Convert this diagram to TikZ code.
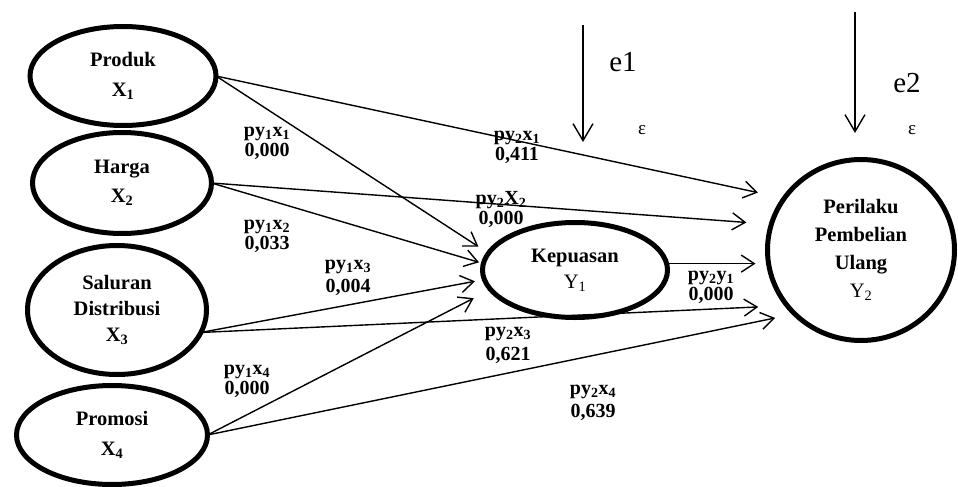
\documentclass[tikz,border=0pt]{standalone}
\usepackage{fontspec}
\setmainfont{Liberation Serif}
\usetikzlibrary{shapes.geometric,arrows.meta}
\begin{document}
\begin{tikzpicture}[x=1pt,y=-1pt,
  var/.style={draw,ellipse,line width=5pt,inner sep=0pt,outer sep=0pt,align=center,
    font=\fontsize{20.5}{28}\selectfont\bfseries},
  conn/.style={line width=1.4pt,-{Straight Barb[length=13pt,width=17pt,line width=1.4pt]}},
  errarrow/.style={line width=1.4pt,-{Straight Barb[length=17pt,width=20pt,line width=1.4pt]}},
  lbl/.style={align=center,inner sep=0pt,font=\fontsize{20}{20}\selectfont\bfseries},
  etxt/.style={inner sep=0pt,font=\fontsize{29}{30}\selectfont},
  eps/.style={inner sep=0pt,font=\fontsize{19}{20}\selectfont}]
\useasboundingbox (0,0) rectangle (958,487);

% variables
\node[var,minimum width=186pt,minimum height=99pt,font=\fontsize{20.5}{30}\selectfont\bfseries] (prod) at (123,76) {Produk\\X\textsubscript{1}};
\node[var,minimum width=179pt,minimum height=101pt,font=\fontsize{20.5}{29}\selectfont\bfseries] (harga) at (122,183) {Harga\\X\textsubscript{2}};
\node[var,minimum width=179pt,minimum height=129pt,font=\fontsize{20.5}{26}\selectfont\bfseries] (sal) at (117,310) {Saluran\\Distribusi\\X\textsubscript{3}};
\node[var,minimum width=191pt,minimum height=99pt,font=\fontsize{20.5}{30}\selectfont\bfseries] (prom) at (112,435) {Promosi\\X\textsubscript{4}};
\node[var,minimum width=185pt,minimum height=95pt,font=\fontsize{20.5}{26}\selectfont\bfseries] (kep) at (575,270) {Kepuasan\\{\mdseries Y\textsubscript{1}}};
\node[var,minimum width=187pt,minimum height=181pt] (per) at (861,250) {Perilaku\\Pembelian\\Ulang\\{\mdseries Y\textsubscript{2}}};

% paths
\draw[conn,shorten >=27pt] (prod.east) -- (per.146);
\draw[conn,shorten >=12pt] (prod.east) -- (kep.169);
\draw[conn,shorten >=25pt] (harga.east) -- (per.164);
\draw[conn,shorten >=4.5pt] (harga.east) -- (kep.176.5);
\draw[conn,shorten >=9.6pt] (sal.-15) -- (kep.186.4);
\draw[conn,shorten >=29pt] (sal.-15) -- (per.217);
\draw[conn,shorten >=19pt] (prom.east) -- (kep.193);
\draw[conn,shorten >=20pt] (prom.east) -- (per.224);
\draw[conn,shorten >=12pt] (kep.4) -- (kep.4 -| per.west);

% error terms
\coordinate (e1top) at (583,25);
\coordinate (e1tip) at (583,142);
\coordinate (e2top) at (855,12);
\coordinate (e2tip) at (855,133);
\draw[errarrow] (e1top) -- (e1tip);
\draw[errarrow] (e2top) -- (e2tip);
\node[etxt] (e1) at (623,62) {e1};
\node[etxt] (e2) at (907,83) {e2};
\node[eps] (eps1) at (642,130) {ε};
\node[eps] (eps2) at (912,130) {ε};

% labels
\node[lbl] (l1) at (267,143) {py\textsubscript{1}x\textsubscript{1}\\0,000};
\node[lbl] (l2) at (267,236) {py\textsubscript{1}x\textsubscript{2}\\0,033};
\node[lbl] (l3) at (348,278) {py\textsubscript{1}x\textsubscript{3}\\[3pt]0,004};
\node[lbl] (l4) at (247,381) {py\textsubscript{1}x\textsubscript{4}\\0,000};
\node[lbl] (l5) at (517,147) {py\textsubscript{2}x\textsubscript{1}\\0,411};
\node[lbl] (l6) at (501,209) {py\textsubscript{2}X\textsubscript{2}\\0,000};
\node[lbl] (l7) at (711,287) {py\textsubscript{2}y\textsubscript{1}\\0,000};
\node[lbl] (l8) at (508,345) {py\textsubscript{2}x\textsubscript{3}\\[4pt]0,621};
\node[lbl] (l9) at (593,403) {py\textsubscript{2}x\textsubscript{4}\\[3pt]0,639};
\end{tikzpicture}
\end{document}
